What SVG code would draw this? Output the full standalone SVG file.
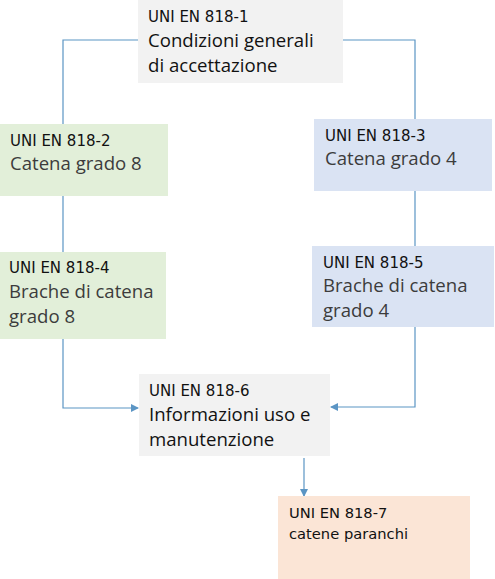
<svg xmlns="http://www.w3.org/2000/svg" width="495" height="579" viewBox="0 0 495 579">
<defs>
<style>
.code{font-family:"DejaVu Sans",Verdana,sans-serif;font-size:15px;fill:#111}
.big{font-family:"Open Sans","Noto Sans",sans-serif;font-size:18.6px;fill:#111}
.bigg{font-family:"Open Sans","Noto Sans",sans-serif;font-size:18.6px;fill:#3c3c3c}
.small{font-family:"DejaVu Sans",Verdana,sans-serif;font-size:14.7px;fill:#111}
.conn{fill:none;stroke:#5b95c4;stroke-width:1.2}
</style>
<marker id="arr" markerWidth="8" markerHeight="8" refX="7" refY="4" orient="auto" markerUnits="userSpaceOnUse">
<path d="M0,0 L8,4 L0,8 Z" fill="#5b95c4"/>
</marker>
<clipPath id="c5"><rect x="312" y="246" width="182" height="81"/></clipPath>
</defs>
<rect width="495" height="579" fill="#fff"/>
<g id="connectors">
<path class="conn" d="M138,40 H63 V124"/>
<path class="conn" d="M343,40 H415 V119"/>
<path class="conn" d="M63,196 V252"/>
<path class="conn" d="M415,191 V246"/>
<path class="conn" d="M63,339 V408 H138" marker-end="url(#arr)"/>
<path class="conn" d="M415,327 V407 H331" marker-end="url(#arr)"/>
<path class="conn" d="M304,458 V496" marker-end="url(#arr)"/>
</g>
<g id="n1">
<rect x="138" y="0" width="205" height="83" fill="#f2f2f2"/>
<text class="code" x="148" y="22">UNI EN 818-1</text>
<text class="big" x="148" y="47">Condizioni generali</text>
<text class="big" x="148" y="72">di accettazione</text>
</g>
<g id="n2">
<rect x="0" y="124" width="168" height="72" fill="#e2efd9"/>
<text class="code" x="10" y="146">UNI EN 818-2</text>
<text class="bigg" x="10" y="170">Catena grado 8</text>
</g>
<g id="n3">
<rect x="314" y="119" width="178" height="72" fill="#dae3f3"/>
<text class="code" x="325" y="141">UNI EN 818-3</text>
<text class="bigg" x="325" y="165">Catena grado 4</text>
</g>
<g id="n4">
<rect x="0" y="252" width="166" height="87" fill="#e2efd9"/>
<text class="code" x="9" y="273">UNI EN 818-4</text>
<text class="bigg" x="9" y="298">Brache di catena</text>
<text class="bigg" x="9" y="323">grado 8</text>
</g>
<g id="n5">
<rect x="312" y="246" width="182" height="81" fill="#dae3f3"/>
<g clip-path="url(#c5)">
<text class="code" x="323" y="268">UNI EN 818-5</text>
<text class="bigg" x="323" y="292">Brache di catena</text>
<text class="bigg" x="323" y="317">grado 4</text>
</g>
</g>
<g id="n6">
<rect x="139" y="374" width="191" height="82" fill="#f2f2f2"/>
<text class="code" x="149" y="396">UNI EN 818-6</text>
<text class="big" x="149" y="421">Informazioni uso e</text>
<text class="big" x="149" y="446">manutenzione</text>
</g>
<g id="n7">
<rect x="278" y="496" width="192" height="83" fill="#fbe5d6"/>
<text class="small" x="289" y="518">UNI EN 818-7</text>
<text class="small" x="289" y="539">catene paranchi</text>
</g>
</svg>
